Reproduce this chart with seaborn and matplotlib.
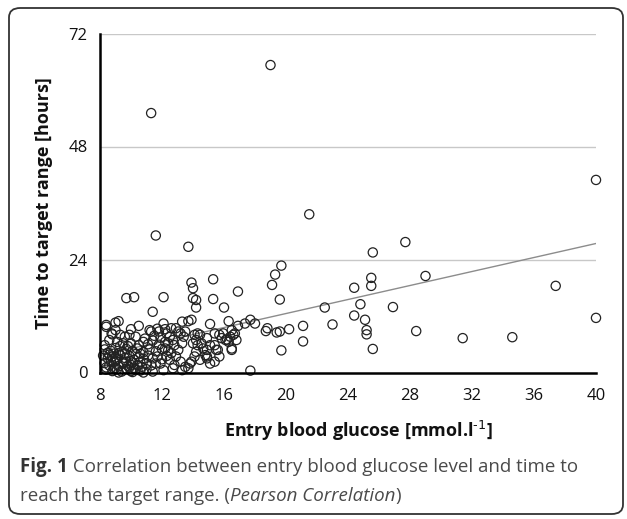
import matplotlib
matplotlib.use("Agg")
import matplotlib.pyplot as plt
import seaborn as sns
import pandas as pd
from matplotlib.patches import FancyBboxPatch

# ---------------- data ----------------
glucose = [
    # sparse / outliers
    19.0, 11.3, 40.0, 21.5, 11.6, 13.7, 27.7, 25.6, 19.7, 19.3, 19.1, 25.5, 29.0, 24.4, 25.5, 37.4,
    19.6, 22.5, 24.8, 26.9, 24.4, 40.0, 25.1, 23.0, 21.1, 20.2, 19.6, 25.2, 25.2, 28.4, 31.4, 34.6,
    21.1, 19.7, 25.6, 17.7, 17.7, 18.0, 18.8, 18.7, 19.4,
    # x 9.5-17, y > 12
    9.7, 10.2, 12.1, 11.4, 13.9, 14.0, 15.3, 14.0, 14.2, 15.3, 14.2, 16.9, 16.0,
    # band y 8-12
    8.4, 9.0, 9.2, 10.5, 12.1, 13.3, 13.7, 13.9, 15.1, 16.3, 16.9, 17.35,
    8.75, 9.3, 9.6, 9.9, 10.3, 12.6, 12.9, 13.05, 12.3,
    # dense cluster 8-12.7
    8.4, 9.0, 10.0, 11.2, 11.7, 12.2,
    8.8, 10.9, 11.5, 11.9,
    8.6, 9.1, 9.5, 10.0, 10.8, 11.1, 11.4, 11.8, 12.2, 8.3, 9.8, 10.5,
    8.3, 8.7, 9.0, 9.4, 9.7, 10.1, 10.4, 10.8, 11.2, 11.6, 12.0, 12.4, 8.9, 10.6,
    8.2, 8.5, 8.8, 9.1, 9.3, 9.6, 9.9, 10.2, 10.5, 10.8, 11.1, 11.4, 11.7, 12.0, 12.3, 9.0, 10.0,
    8.3, 8.6, 8.9, 9.2, 9.5, 9.8, 10.1, 10.4, 10.7, 11.0, 11.3, 11.6, 11.9, 9.0, 10.2,
    8.4, 8.8, 9.1, 9.4, 9.7, 10.0, 10.3, 10.6, 11.0, 11.4, 12.1, 12.7, 9.2, 10.8,
    8.5, 8.7, 9.2, 9.5, 9.9, 10.3, 8.4, 8.9, 9.3, 9.7, 10.1, 10.6, 8.6, 9.0, 9.6, 10.0,
    # x 12-17, y 0-10
    12.5, 12.7, 12.4, 12.2,
    14.1, 14.3, 14.2, 14.0, 14.3, 14.55, 14.66, 14.9, 14.8, 14.9, 14.2, 14.1, 13.9, 13.5, 13.7,
    13.2, 12.9, 13.05, 13.3, 13.4, 13.2, 12.8, 12.6, 12.5, 12.8, 13.3,
    15.4, 15.7, 15.95, 16.1, 16.3, 16.4, 16.5, 16.6, 16.7, 16.8, 16.5, 15.4, 15.6, 15.4, 15.7,
    11.3, 11.8, 13.5, 14.45, 14.9, 15.1, 15.5, 15.85, 16.2, 16.5, 14.45, 14.9, 15.1, 13.8,
]
hours = [
    65.3, 55.1, 40.9, 33.6, 29.1, 26.7, 27.7, 25.5, 22.7, 20.8, 18.6, 20.1, 20.5, 18.0, 18.4, 18.4,
    15.5, 13.8, 14.5, 13.9, 12.1, 11.6, 11.2, 10.2, 9.9, 9.2, 8.7, 9.0, 8.1, 8.8, 7.3, 7.5,
    6.6, 4.7, 5.0, 0.4, 11.2, 10.4, 9.4, 8.8, 8.5,
    15.8, 16.0, 16.0, 12.9, 19.1, 17.9, 19.8, 15.8, 15.4, 15.6, 13.8, 17.2, 13.8,
    10.1, 10.6, 10.9, 9.9, 10.4, 10.8, 10.9, 11.2, 10.3, 10.9, 9.9, 10.4,
    8.3, 8.0, 7.6, 8.0, 7.6, 9.4, 9.4, 8.7, 8.3,
    9.7, 9.0, 9.2, 9.0, 9.3, 9.2,
    8.1, 7.2, 7.8, 7.4,
    6.9, 6.5, 6.2, 6.2, 6.5, 6.0, 6.8, 5.9, 6.5, 5.8, 5.6, 5.8,
    4.9, 4.6, 5.2, 4.4, 5.0, 4.6, 5.1, 4.3, 4.9, 4.5, 5.0, 4.7, 4.0, 4.0,
    3.6, 3.0, 3.4, 2.8, 3.7, 3.1, 3.5, 2.7, 3.3, 2.9, 3.6, 3.0, 3.4, 2.8, 3.5, 2.5, 2.4,
    2.0, 1.5, 2.2, 1.3, 1.9, 1.4, 2.1, 1.6, 1.2, 2.0, 1.5, 1.9, 1.9, 1.0, 1.0,
    0.6, 0.3, 0.7, 0.2, 0.8, 0.3, 0.6, 0.4, 0.7, 0.2, 0.5, 0.9, 0.0, 0.0,
    4.2, 2.4, 4.1, 2.2, 1.1, 3.9, 1.1, 0.9, 5.6, 2.3, 0.1, 2.2, 3.8, 3.2, 4.1, 1.6,
    7.6, 6.9, 6.2, 5.1,
    8.0, 8.3, 6.9, 6.2, 5.8, 6.2, 5.1, 4.8, 3.7, 3.0, 4.4, 3.4, 2.3, 1.2, 0.9,
    2.3, 3.4, 4.8, 6.2, 7.6, 8.3, 5.8, 4.1, 2.7, 1.6, 0.5,
    8.3, 8.0, 8.3, 6.9, 6.5, 7.6, 9.0, 8.0, 8.3, 6.9, 5.1, 5.8, 4.8, 2.3, 3.4,
    8.7, 8.7, 8.7, 8.0, 7.3, 5.8, 4.8, 7.3, 7.0, 4.8, 2.7, 3.4, 1.9, 1.9,
]

# linear trend line (Excel-style)
trend_x = [8, 40]
trend_y = [3.6, 27.4]

x_ticks = [8, 12, 16, 20, 24, 28, 32, 36, 40]
y_ticks = [0, 24, 48, 72]

x_label = "Entry blood glucose [mmol.l$^{\\text{-1}}$]"
y_label = "Time to target range [hours]"
cap_bold = "Fig. 1"
cap_line1 = " Correlation between entry blood glucose level and time to"
cap_line2a = "reach the target range. ("
cap_line2b = "Pearson Correlation"
cap_line2c = ")"

# ---------------- figure ----------------
sns.set_theme(style="white")
plt.rcParams["font.family"] = ["Open Sans", "DejaVu Sans"]
plt.rcParams["mathtext.default"] = "regular"

W, H = 627, 519
fig = plt.figure(figsize=(W / 100, H / 100), dpi=100)
ax = fig.add_axes([100 / W, 1 - 372.5 / H, 496 / W, 339 / H])

n = min(len(glucose), len(hours))
df = pd.DataFrame({"glucose": glucose[:n], "hours": hours[:n]})
tdf = pd.DataFrame({"x": trend_x, "y": trend_y})

for yt in y_ticks[1:]:
    ax.axhline(yt, color="#c8c8c8", lw=1.0, zorder=0)

sns.lineplot(data=tdf, x="x", y="y", ax=ax, color="#8c8c8c", lw=1.0, zorder=1)
sns.scatterplot(data=df, x="glucose", y="hours", ax=ax, marker="o",
                facecolors="none", edgecolor="#222222", linewidth=0.9, s=44, zorder=2)

ax.set_xlim(8, 40)
ax.set_ylim(0, 72)
ax.set_xticks(x_ticks)
ax.set_yticks(y_ticks)
ax.set_xticklabels([str(v) for v in x_ticks])
ax.set_yticklabels([str(v) for v in y_ticks])
for s in ["top", "right"]:
    ax.spines[s].set_visible(False)
for s in ["left", "bottom"]:
    ax.spines[s].set_color("black")
    ax.spines[s].set_linewidth(1.8)
ax.tick_params(axis="x", direction="out", length=5, width=1.5, color="black",
               pad=6, labelsize=12, labelcolor="#111111")
ax.tick_params(axis="y", direction="out", length=3, width=1.5, color="black",
               pad=6, labelsize=12, labelcolor="#111111")
ax.set_xlabel(x_label, fontsize=13, fontweight="bold", color="#111111", va="center")
ax.set_ylabel(y_label, fontsize=13, fontweight="bold", color="#111111", va="center")
ax.xaxis.set_label_coords((358 - 100) / 496, (372.5 - 431) / 339)
ax.yaxis.set_label_coords((44 - 100) / 496, 0.5)
for c in ax.collections:
    c.set_clip_on(False)

# border
box = FancyBboxPatch((9 / W, 5 / H), 614 / W, 506 / H,
                     boxstyle="round,pad=0,rounding_size=0.018",
                     transform=fig.transFigure, fill=False,
                     edgecolor="#333333", lw=1.3)
fig.patches.append(box)

# caption
fig.canvas.draw()
r = fig.canvas.get_renderer()
x0 = 20 / W
y1 = 1 - 467 / H
y2 = 1 - 496 / H
fs = 13.5
t = fig.text(x0, y1, cap_bold, fontsize=fs, fontweight="bold", color="#333333", va="center")
bb = t.get_window_extent(r)
fig.text(bb.x1 / W, y1, cap_line1, fontsize=fs, color="#4a4a4a", va="center")
t2 = fig.text(x0, y2, cap_line2a, fontsize=fs, color="#4a4a4a", va="center")
bb = t2.get_window_extent(r)
t3 = fig.text(bb.x1 / W, y2, cap_line2b, fontsize=fs, style="italic", color="#4a4a4a", va="center")
bb = t3.get_window_extent(r)
fig.text(bb.x1 / W, y2, cap_line2c, fontsize=fs, color="#4a4a4a", va="center")

fig.savefig("out.png", dpi=100)
